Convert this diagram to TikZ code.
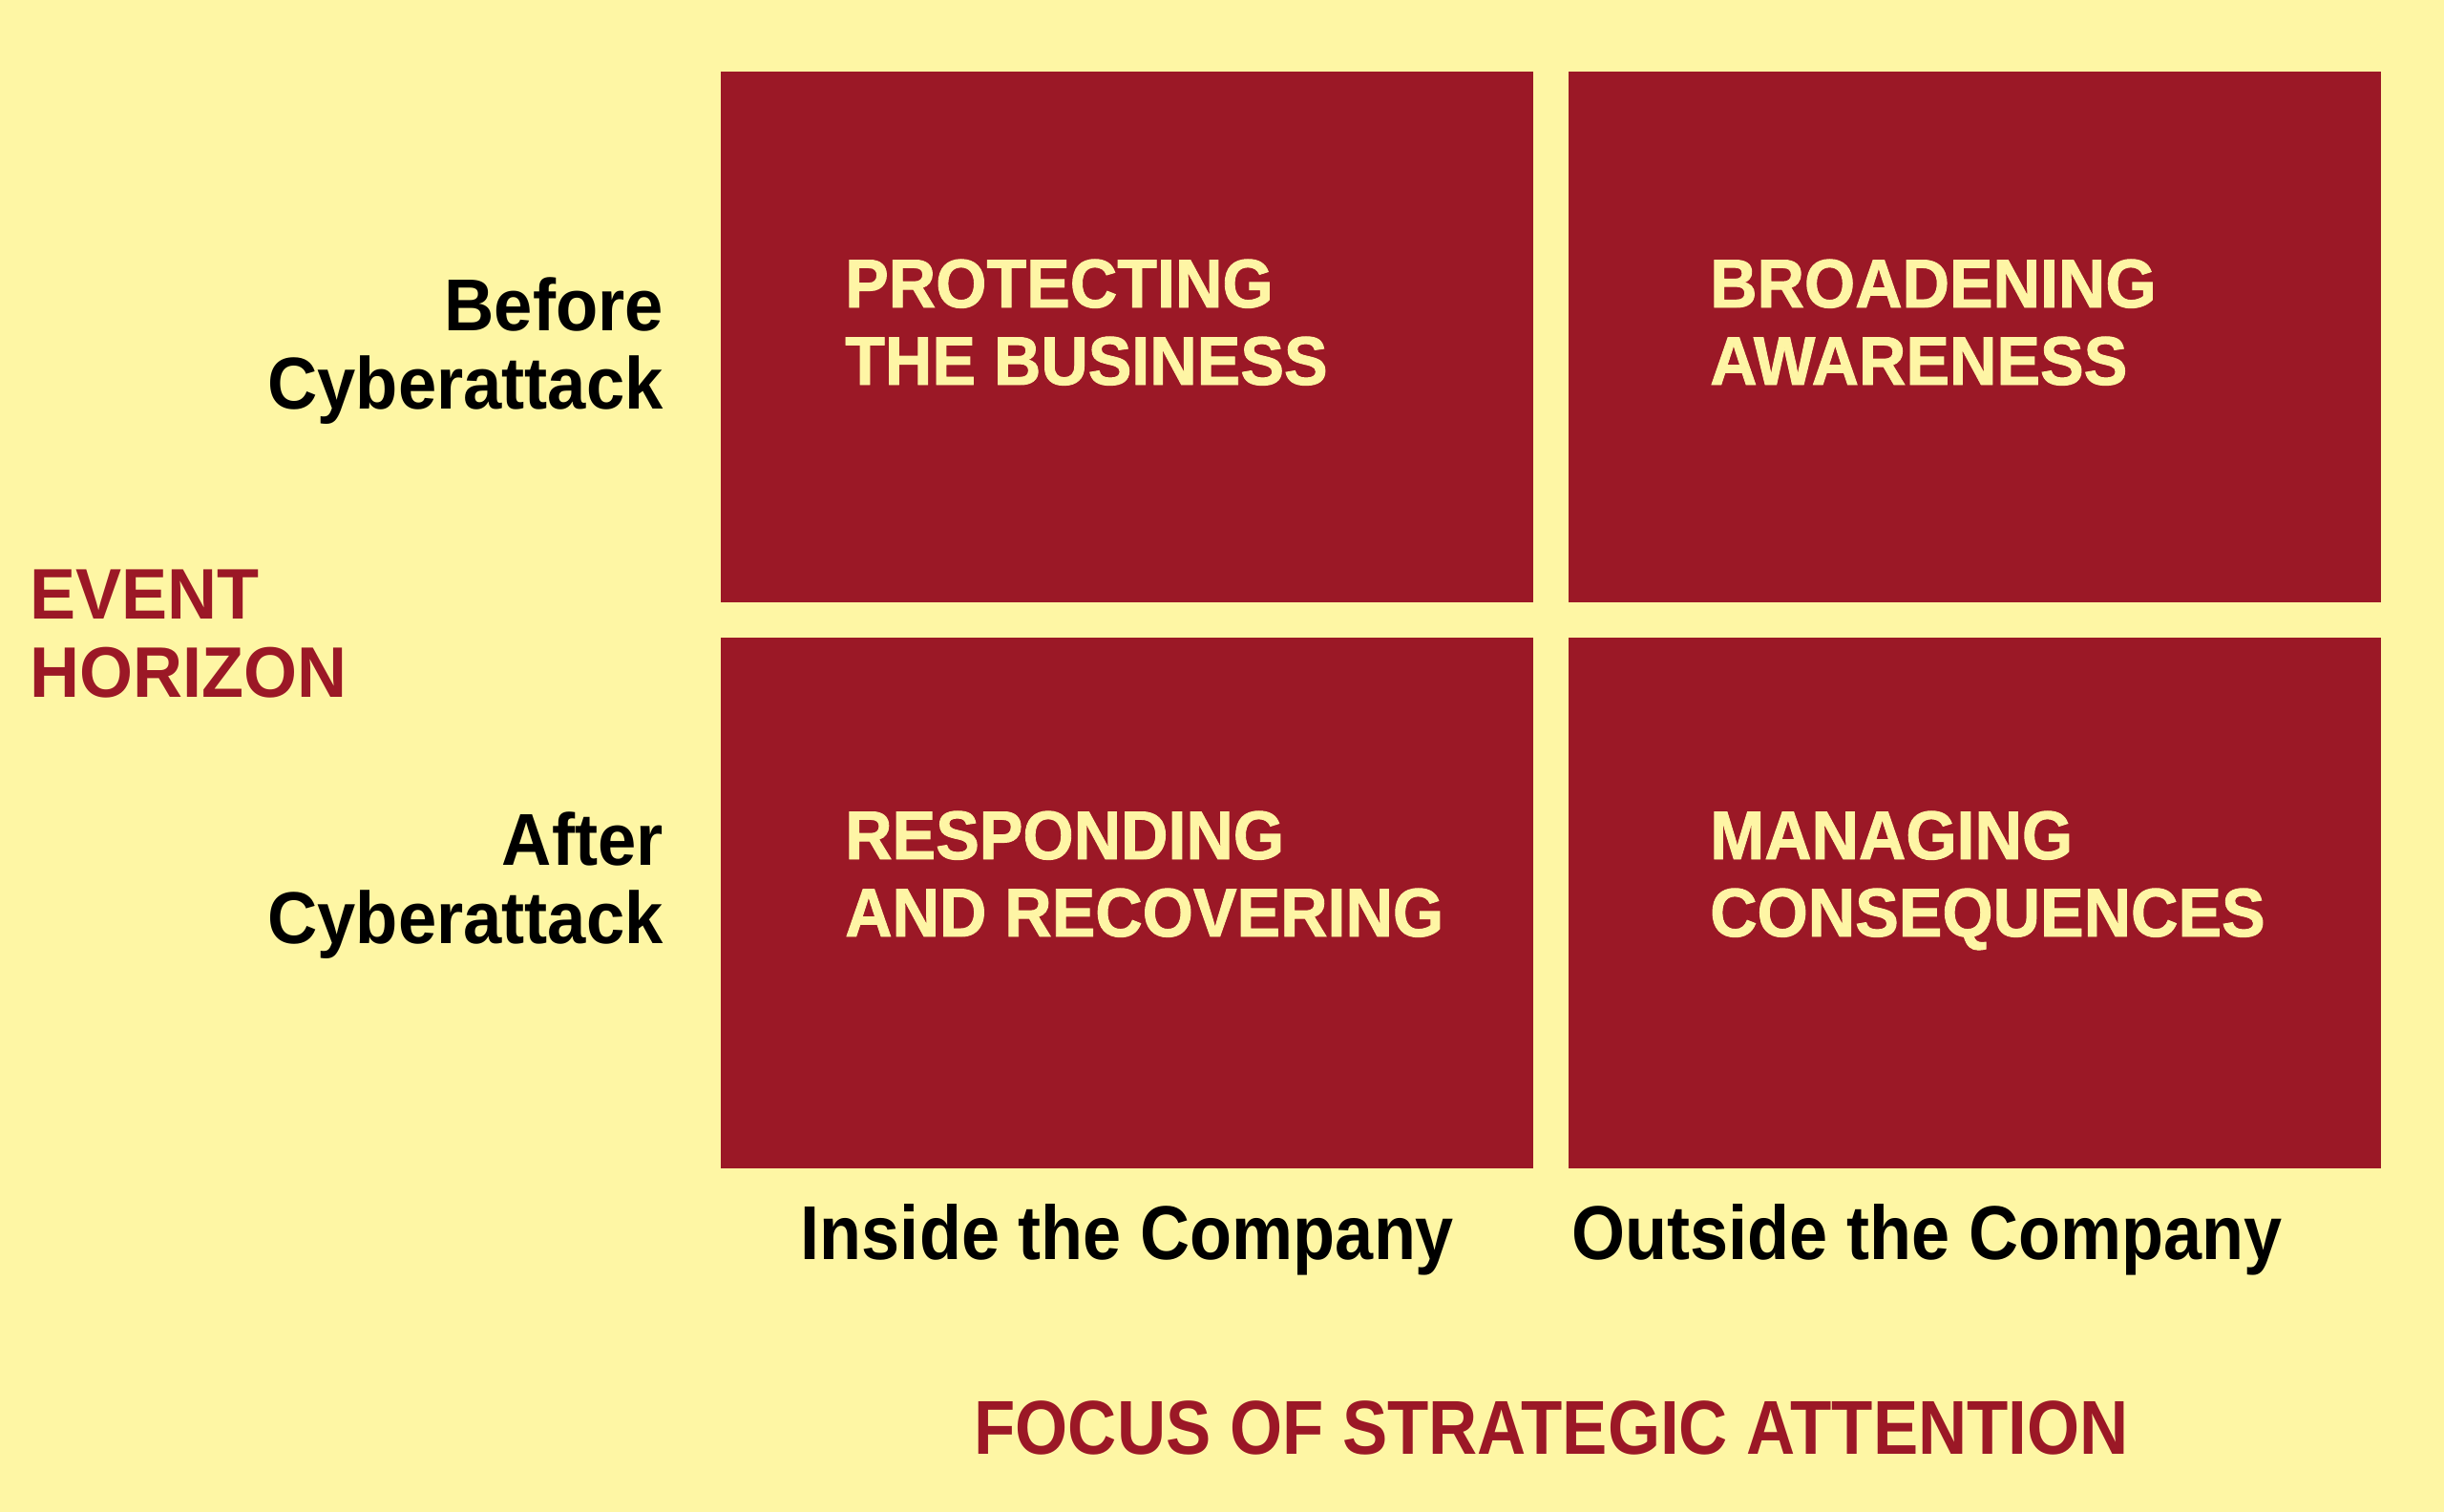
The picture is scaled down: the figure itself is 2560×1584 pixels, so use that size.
\documentclass[tikz,border=0pt]{standalone}
\usepackage{fontspec}
\setmainfont{Liberation Sans}
\newfontfamily\heavyfont[FakeBold=1.3]{Liberation Sans Bold}
\definecolor{hbrred}{RGB}{155,24,38}
\definecolor{hbrbg}{RGB}{254,246,164}
\definecolor{hbrcream}{RGB}{254,245,165}
\newcommand{\sxw}[2]{\scalebox{#1}[1]{#2}}
\begin{document}
\begin{tikzpicture}[x=1pt,y=-1pt,
  cell/.style={fill=hbrred,draw=none,inner sep=0pt,minimum width=851pt,minimum height=556pt,anchor=north west},
  celltext/.style={inner sep=0pt,anchor=base west,text=hbrcream,font=\heavyfont\fontsize{72}{80}\selectfont},
  rowlabel/.style={inner sep=0pt,anchor=base east,text=black,font=\bfseries\fontsize{77}{85}\selectfont},
  axisred/.style={inner sep=0pt,text=hbrred,font=\bfseries\fontsize{75}{82}\selectfont},
  collabel/.style={inner sep=0pt,text=black,font=\bfseries\fontsize{80}{88}\selectfont}]
\fill[hbrbg] (0,0) rectangle (2560,1584);
\useasboundingbox (0,0) rectangle (2560,1584);
% cells
\node[cell] (tl) at (755,75) {};
\node[cell] (tr) at (1643,75) {};
\node[cell] (bl) at (755,668) {};
\node[cell] (br) at (1643,668) {};
% cell texts
\node[celltext] (tl1) at (885,322) {\sxw{0.95}{PROTECTING}};
\node[celltext] (tl2) at (885,403) {\sxw{0.95}{THE BUSINESS}};
\node[celltext] (tr1) at (1791,322) {\sxw{0.95}{BROADENING}};
\node[celltext] (tr2) at (1791,403) {\sxw{0.95}{AWARENESS}};
\node[celltext] (bl1) at (885,900) {\sxw{0.95}{RESPONDING}};
\node[celltext] (bl2) at (885,981) {\sxw{0.95}{AND RECOVERING}};
\node[celltext] (br1) at (1791,900) {\sxw{0.95}{MANAGING}};
\node[celltext] (br2) at (1791,981) {\sxw{0.95}{CONSEQUENCES}};
% row labels
\node[rowlabel] (before1) at (695,346) {\sxw{0.94}{Before}};
\node[rowlabel] (before2) at (695,428) {\sxw{0.94}{Cyberattack}};
\node[rowlabel] (after1) at (695,906) {\sxw{0.94}{After}};
\node[rowlabel] (after2) at (695,988) {\sxw{0.94}{Cyberattack}};
% event horizon
\node[axisred,anchor=base west] (eh1) at (31,648) {\sxw{0.96}{EVENT}};
\node[axisred,anchor=base west] (eh2) at (31,730) {\sxw{0.96}{HORIZON}};
% column labels
\node[collabel,anchor=base] (inside) at (1181,1319) {\sxw{0.9}{Inside the Company}};
\node[collabel,anchor=base west] (outside) at (1646,1319) {\sxw{0.9}{Outside the Company}};
% focus
\node[axisred,anchor=base,font=\bfseries\fontsize{80}{88}\selectfont] (focus) at (1625,1523) {\sxw{0.885}{FOCUS OF STRATEGIC ATTENTION}};
\end{tikzpicture}
\end{document}
